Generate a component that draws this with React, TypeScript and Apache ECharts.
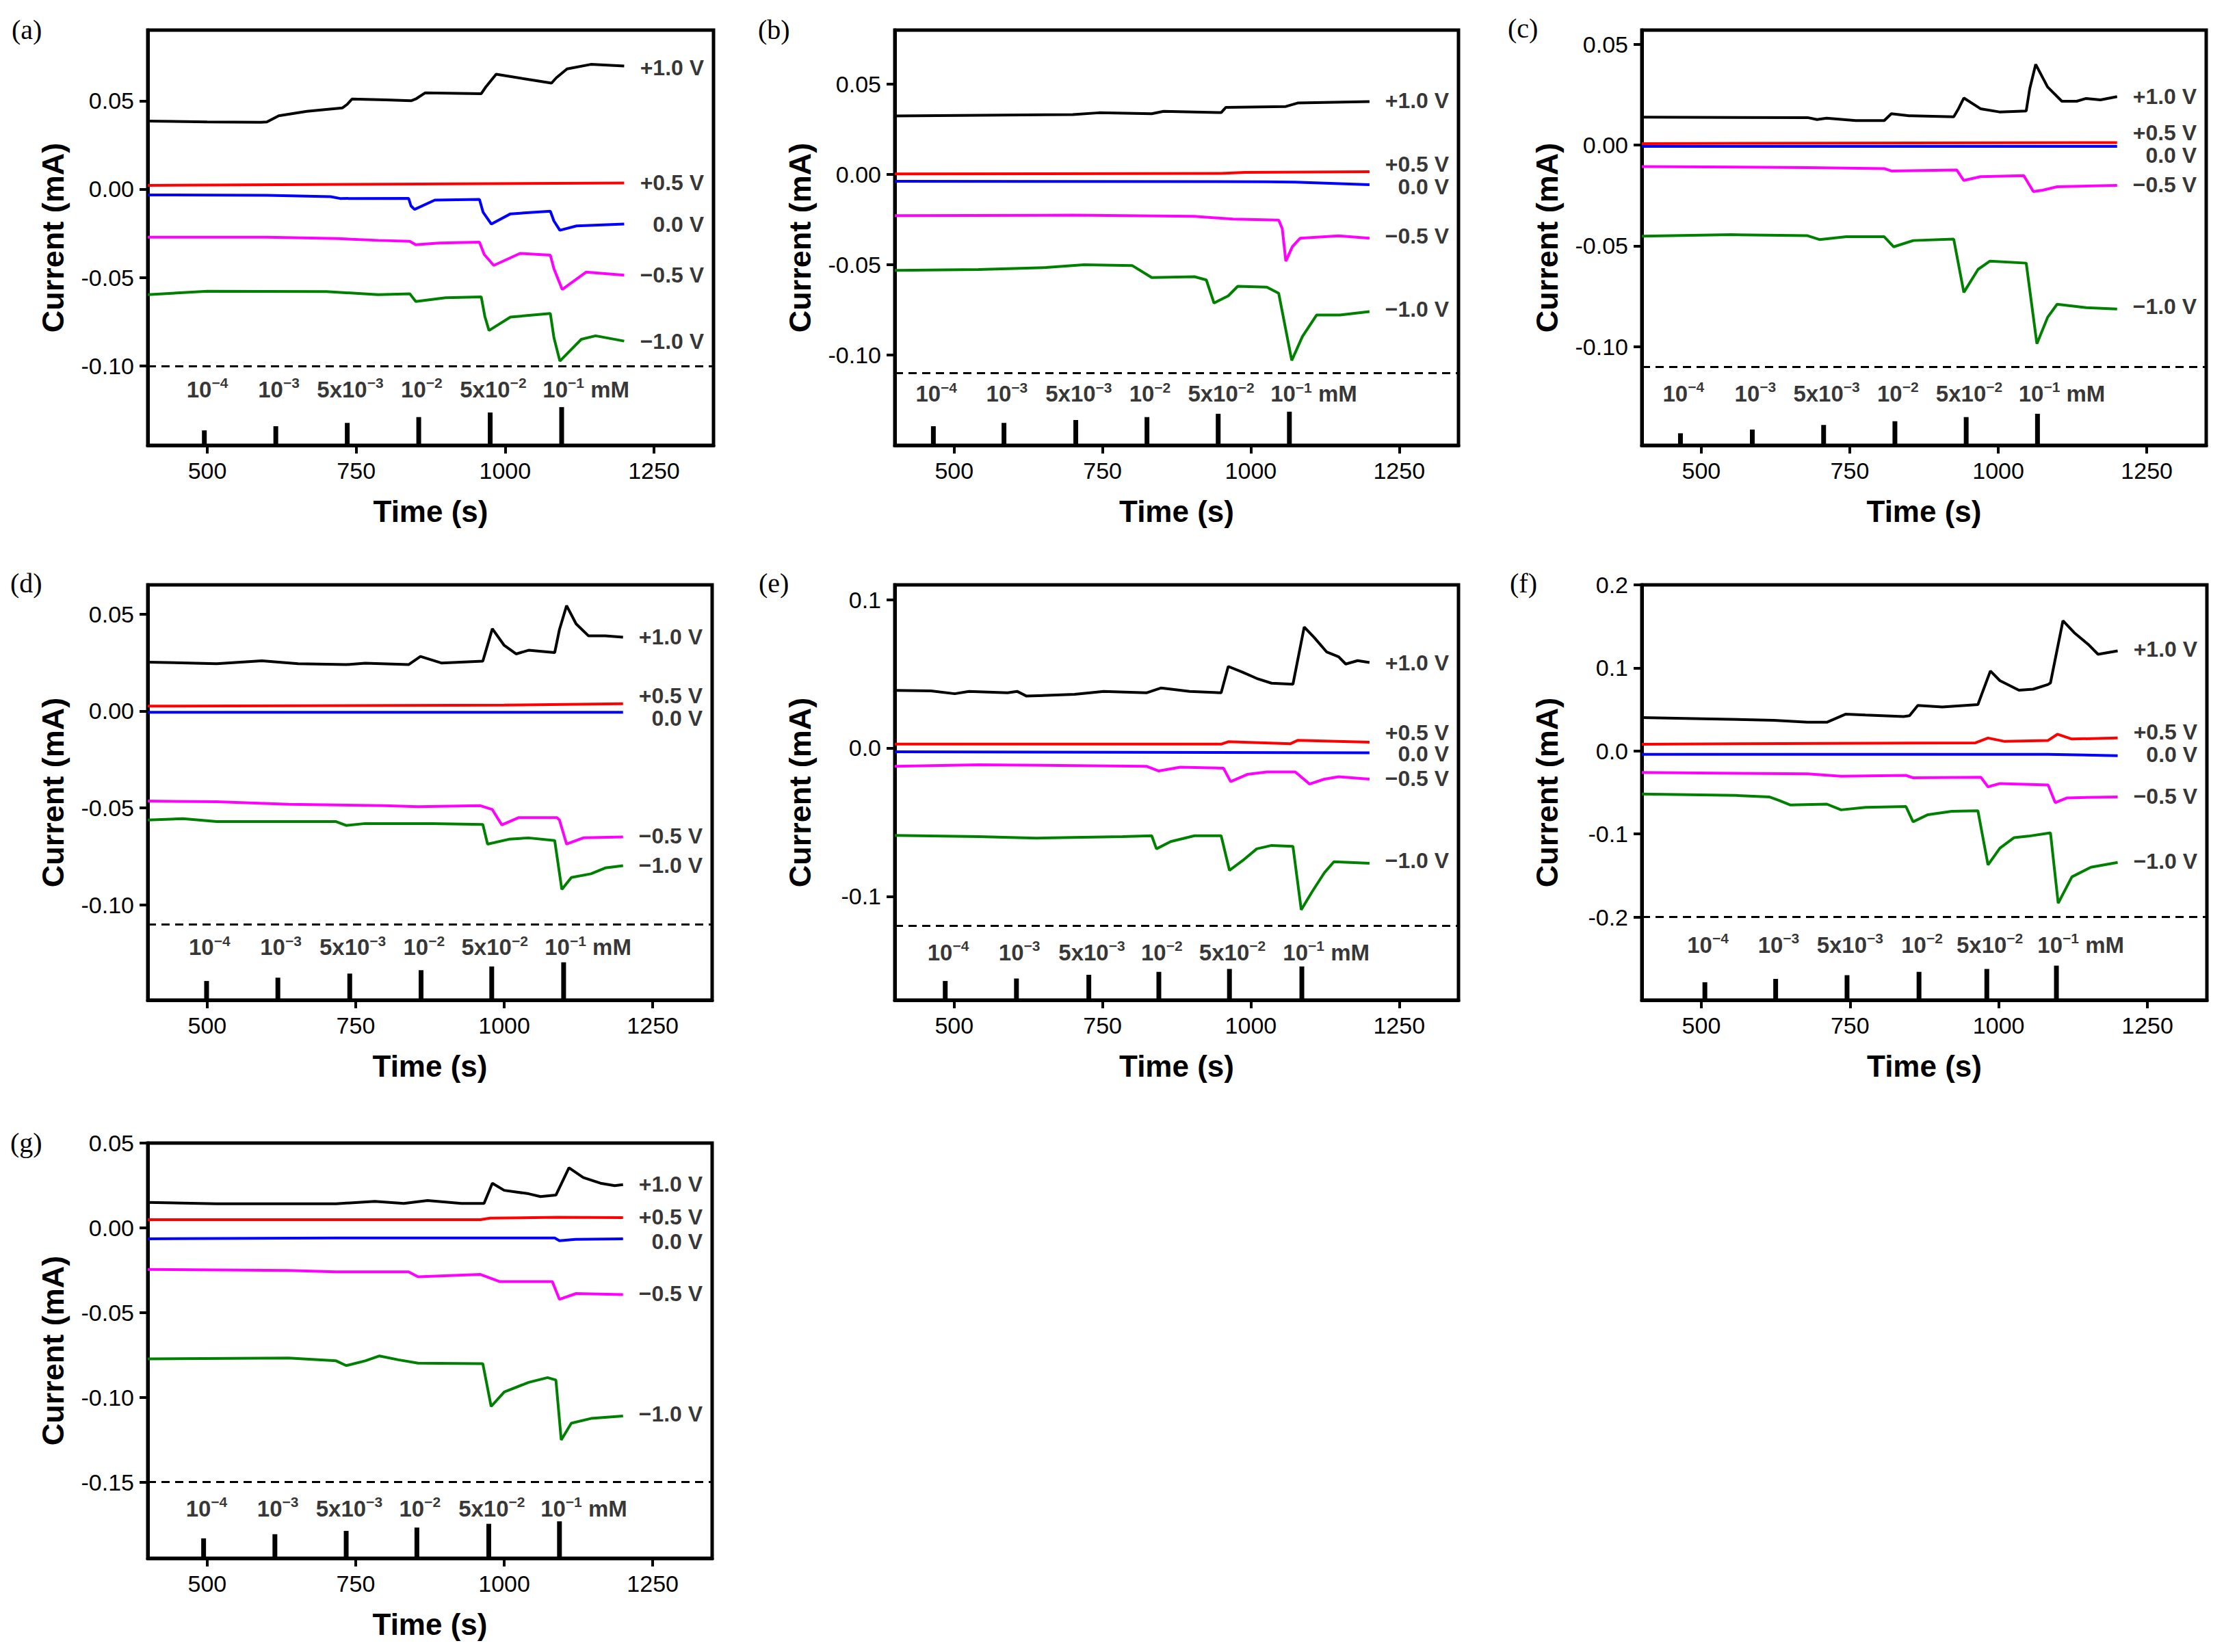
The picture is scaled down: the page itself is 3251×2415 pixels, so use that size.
import { useEffect, useRef } from "react";
import * as echarts from "echarts";

// 曲线数据 [时间 (s), 电流 (mA)]，按面板 a–g，依次为 +1.0 / +0.5 / 0.0 / −0.5 / −1.0 V
const aP10 = [[400, 0.0385], [500, 0.038], [590, 0.0378], [600, 0.038], [620, 0.0415], [667, 0.044], [727, 0.046], [735, 0.048], [743, 0.051], [800, 0.0505], [842, 0.05], [850, 0.051], [866, 0.0545], [960, 0.054], [968, 0.058], [985, 0.065], [1040, 0.062], [1078, 0.06], [1086, 0.063], [1104, 0.068], [1144, 0.0706], [1200, 0.0697]];
const aP05 = [[400, 0.0021], [800, 0.0028], [1200, 0.0035]];
const aZero = [[400, -0.0033], [600, -0.0035], [707, -0.0043], [723, -0.0053], [838, -0.0052], [842, -0.0095], [848, -0.0115], [882, -0.0062], [957, -0.0058], [963, -0.013], [977, -0.0198], [1009, -0.014], [1076, -0.0125], [1082, -0.018], [1092, -0.0233], [1120, -0.0208], [1200, -0.0198]];
const aM05 = [[400, -0.0272], [600, -0.0272], [720, -0.028], [787, -0.029], [840, -0.0295], [850, -0.0315], [890, -0.0305], [957, -0.03], [965, -0.037], [981, -0.0432], [1025, -0.0364], [1076, -0.0374], [1082, -0.045], [1096, -0.0568], [1136, -0.047], [1200, -0.0487]];
const aM10 = [[400, -0.0597], [500, -0.0578], [700, -0.058], [787, -0.0597], [840, -0.0592], [850, -0.0636], [900, -0.0615], [960, -0.061], [966, -0.072], [973, -0.08], [1009, -0.0724], [1076, -0.0704], [1082, -0.084], [1092, -0.0973], [1128, -0.085], [1152, -0.083], [1200, -0.086]];

const bP10 = [[400, 0.0324], [700, 0.0332], [744, 0.0342], [833, 0.0337], [853, 0.035], [950, 0.0343], [958, 0.0372], [1059, 0.0377], [1079, 0.0396], [1200, 0.0404]];
const bP05 = [[400, 0.0003], [950, 0.0006], [990, 0.0012], [1200, 0.0016]];
const bZero = [[400, -0.0037], [1027, -0.004], [1075, -0.0042], [1200, -0.0056]];
const bM05 = [[400, -0.0228], [700, -0.0225], [905, -0.0232], [970, -0.0247], [1047, -0.0252], [1053, -0.03], [1059, -0.048], [1070, -0.04], [1083, -0.0353], [1148, -0.034], [1200, -0.0353]];
const bM10 = [[400, -0.0531], [541, -0.0526], [655, -0.0515], [719, -0.05], [800, -0.0504], [833, -0.0571], [905, -0.0566], [925, -0.0584], [938, -0.0712], [962, -0.0672], [978, -0.0619], [1027, -0.0624], [1047, -0.0658], [1069, -0.103], [1087, -0.0897], [1111, -0.0778], [1150, -0.0778], [1200, -0.0759]];

const cP10 = [[400, 0.0138], [679, 0.0136], [695, 0.0126], [711, 0.0133], [760, 0.0121], [808, 0.0121], [820, 0.0155], [850, 0.0145], [925, 0.014], [933, 0.018], [942, 0.0233], [970, 0.018], [1002, 0.0164], [1047, 0.0169], [1053, 0.028], [1063, 0.04], [1083, 0.0288], [1107, 0.0217], [1132, 0.0217], [1148, 0.0231], [1172, 0.0224], [1200, 0.024]];
const cP05 = [[400, 0.0007], [1200, 0.0012]];
const cZero = [[400, -0.0007], [1200, -0.0007]];
const cM05 = [[400, -0.0107], [679, -0.0112], [808, -0.0117], [820, -0.0129], [930, -0.0124], [942, -0.0176], [970, -0.0157], [1043, -0.0152], [1059, -0.0231], [1075, -0.0224], [1099, -0.0207], [1200, -0.02]];
const cM10 = [[400, -0.0452], [550, -0.0445], [679, -0.045], [699, -0.0469], [744, -0.0455], [808, -0.0455], [824, -0.0505], [857, -0.0474], [925, -0.0467], [942, -0.0731], [966, -0.0617], [986, -0.0576], [1047, -0.0586], [1065, -0.0986], [1083, -0.0855], [1099, -0.079], [1148, -0.0807], [1200, -0.0814]];

const dP10 = [[400, 0.0252], [516, 0.0244], [592, 0.0259], [653, 0.0244], [734, 0.0239], [766, 0.0246], [839, 0.0239], [859, 0.0281], [895, 0.0247], [964, 0.0257], [972, 0.034], [980, 0.0424], [1000, 0.0338], [1020, 0.0294], [1041, 0.0313], [1085, 0.0301], [1093, 0.042], [1105, 0.0543], [1121, 0.0449], [1142, 0.0387], [1170, 0.0387], [1200, 0.038]];
const dP05 = [[400, 0.0025], [1000, 0.003], [1200, 0.0037]];
const dZero = [[400, -0.0007], [1200, -0.0007]];
const dM05 = [[400, -0.0464], [516, -0.0468], [637, -0.0481], [798, -0.0488], [855, -0.0493], [960, -0.0488], [980, -0.0508], [996, -0.0587], [1024, -0.055], [1089, -0.055], [1093, -0.0562], [1105, -0.0686], [1133, -0.0654], [1200, -0.0649]];
const dM10 = [[400, -0.0562], [459, -0.0555], [516, -0.057], [717, -0.057], [734, -0.059], [766, -0.058], [879, -0.058], [964, -0.0585], [972, -0.0686], [1008, -0.0661], [1041, -0.0654], [1085, -0.0668], [1097, -0.092], [1113, -0.0858], [1146, -0.0839], [1170, -0.0809], [1200, -0.0797]];

const eP10 = [[400, 0.0388], [461, 0.0385], [501, 0.0366], [525, 0.0382], [590, 0.0372], [606, 0.0382], [622, 0.035], [703, 0.0362], [752, 0.0382], [824, 0.0372], [849, 0.0405], [897, 0.0382], [950, 0.0372], [962, 0.055], [986, 0.0511], [1010, 0.0469], [1035, 0.0437], [1071, 0.043], [1090, 0.0816], [1107, 0.0744], [1128, 0.0647], [1148, 0.0615], [1160, 0.0566], [1180, 0.0589], [1200, 0.0576]];
const eP05 = [[400, 0.0026], [950, 0.0026], [962, 0.0042], [1067, 0.0029], [1079, 0.0052], [1200, 0.0039]];
const eZero = [[400, -0.0026], [1200, -0.0032]];
const eM05 = [[400, -0.0123], [541, -0.0113], [824, -0.0123], [845, -0.0155], [881, -0.0129], [954, -0.0136], [966, -0.0227], [994, -0.0178], [1027, -0.0162], [1075, -0.0162], [1099, -0.0243], [1124, -0.021], [1148, -0.0194], [1200, -0.021]];
const eM10 = [[400, -0.0589], [541, -0.0598], [639, -0.0608], [784, -0.0598], [833, -0.0592], [841, -0.068], [865, -0.0631], [905, -0.0592], [950, -0.0592], [964, -0.0825], [986, -0.076], [1010, -0.068], [1035, -0.0657], [1071, -0.0663], [1085, -0.1091], [1103, -0.0971], [1124, -0.0841], [1140, -0.0767], [1200, -0.0777]];

const fP10 = [[400, 0.0403], [517, 0.0386], [622, 0.0369], [679, 0.0346], [711, 0.0346], [743, 0.0444], [776, 0.0432], [840, 0.0415], [850, 0.0425], [864, 0.0548], [905, 0.053], [965, 0.0559], [986, 0.0963], [1002, 0.0847], [1034, 0.0732], [1058, 0.0744], [1083, 0.0801], [1087, 0.082], [1108, 0.1568], [1127, 0.1424], [1151, 0.128], [1167, 0.1164], [1200, 0.1205]];
const fP05 = [[400, 0.0081], [961, 0.0098], [982, 0.0156], [1010, 0.0115], [1083, 0.0127], [1099, 0.0202], [1123, 0.0144], [1200, 0.0156]];
const fZero = [[400, -0.004], [1083, -0.004], [1200, -0.0058]];
const fM05 = [[400, -0.0259], [679, -0.0276], [735, -0.0305], [844, -0.0294], [856, -0.0323], [970, -0.0317], [982, -0.0432], [1002, -0.0392], [1083, -0.0409], [1095, -0.0622], [1115, -0.0565], [1200, -0.0553]];
const fM10 = [[400, -0.0519], [558, -0.0536], [614, -0.0553], [630, -0.0594], [650, -0.0651], [711, -0.064], [735, -0.0709], [776, -0.068], [844, -0.0669], [856, -0.0853], [881, -0.0767], [921, -0.0726], [965, -0.072], [982, -0.1372], [1002, -0.117], [1026, -0.1043], [1050, -0.1026], [1087, -0.0986], [1100, -0.1833], [1123, -0.1516], [1155, -0.14], [1200, -0.1343]];

const gP10 = [[400, 0.015], [516, 0.0142], [717, 0.0142], [782, 0.0156], [831, 0.0144], [871, 0.0161], [928, 0.0144], [966, 0.0144], [980, 0.0263], [1000, 0.0221], [1041, 0.0201], [1061, 0.0184], [1087, 0.0193], [1109, 0.0354], [1133, 0.0297], [1162, 0.0263], [1186, 0.0249], [1200, 0.0255]];
const gP05 = [[400, 0.0048], [960, 0.0048], [976, 0.0057], [1089, 0.0062], [1200, 0.006]];
const gZero = [[400, -0.0065], [717, -0.006], [1085, -0.006], [1093, -0.0076], [1120, -0.0068], [1200, -0.0065]];
const gM05 = [[400, -0.0246], [637, -0.0252], [717, -0.026], [839, -0.026], [855, -0.0289], [960, -0.0275], [992, -0.0317], [1081, -0.0317], [1093, -0.0422], [1121, -0.0388], [1200, -0.0394]];
const gM10 = [[400, -0.0773], [637, -0.0768], [717, -0.0785], [734, -0.0813], [766, -0.0785], [790, -0.0756], [822, -0.0779], [855, -0.0799], [964, -0.0802], [978, -0.1054], [1000, -0.0969], [1041, -0.0912], [1073, -0.0884], [1087, -0.0898], [1096, -0.1252], [1113, -0.1153], [1146, -0.1125], [1200, -0.111]];

// 加样时刻 (s) 与标记高度（占坐标框高度的比例）
const injA = [495, 615, 735, 855, 975, 1095];
const injB = [465, 584, 705, 825, 945, 1065];
const injC = [465, 586, 706, 826, 946, 1066];
const injD = [499, 619, 740, 860, 979, 1100];
const injE = [485, 605, 727, 845, 964, 1086];
const injF = [506, 625, 745, 866, 980, 1097];
const injG = [494, 614, 734, 853, 974, 1093];
const markA = [0.036, 0.046, 0.054, 0.068, 0.079, 0.092];
const markB = [0.046, 0.054, 0.061, 0.068, 0.076, 0.081];
const markC = [0.029, 0.038, 0.049, 0.058, 0.068, 0.076];
const markD = [0.046, 0.054, 0.064, 0.072, 0.081, 0.091];
const markE = [0.046, 0.052, 0.061, 0.068, 0.075, 0.081];
const markF = [0.043, 0.051, 0.06, 0.068, 0.075, 0.083];
const markG = [0.048, 0.058, 0.066, 0.074, 0.083, 0.089];

// 右侧电位标注的纵坐标
const tagA = [0.0687, 0.0035, -0.0198, -0.0486, -0.086];
const tagB = [0.0409, 0.0058, -0.0069, -0.034, -0.0746];
const tagC = [0.024, 0.0062, -0.005, -0.0198, -0.0802];
const tagD = [0.0382, 0.0079, -0.0039, -0.0644, -0.0797];
const tagE = [0.0573, 0.0104, -0.0039, -0.0204, -0.076];
const tagF = [0.1222, 0.0231, -0.0046, -0.0548, -0.1331];
const tagG = [0.0258, 0.0065, -0.0082, -0.0388, -0.11];

const X_TICKS = [500, 750, 1000, 1250];
const V_LABELS = ["+1.0 V", "+0.5 V", "0.0 V", "\u22120.5 V", "\u22121.0 V"];
const CONC_LABELS = [
  "{b|10}{s|\u22124}",
  "{b|10}{s|\u22123}",
  "{b|5x10}{s|\u22123}",
  "{b|10}{s|\u22122}",
  "{b|5x10}{s|\u22122}",
  "{b|10}{s|\u22121}{b| mM}",
];
const COLORS = ["#000000", "#ff0000", "#0000ff", "#ff00ff", "#008000"];

const panels = [
  { letter: "(a)", traces: [aP10, aP05, aZero, aM05, aM10], yMin: -0.145, yMax: 0.09, yTicks: [-0.1, -0.05, 0, 0.05], dec: 2, dash: -0.1, tags: tagA, inj: injA, marks: markA },
  { letter: "(b)", traces: [bP10, bP05, bZero, bM05, bM10], yMin: -0.15, yMax: 0.08, yTicks: [-0.1, -0.05, 0, 0.05], dec: 2, dash: -0.109, tags: tagB, inj: injB, marks: markB },
  { letter: "(c)", traces: [cP10, cP05, cZero, cM05, cM10], yMin: -0.149, yMax: 0.057, yTicks: [-0.1, -0.05, 0, 0.05], dec: 2, dash: -0.112, tags: tagC, inj: injC, marks: markC },
  { letter: "(d)", traces: [dP10, dP05, dZero, dM05, dM10], yMin: -0.149, yMax: 0.065, yTicks: [-0.1, -0.05, 0, 0.05], dec: 2, dash: -0.109, tags: tagD, inj: injD, marks: markD },
  { letter: "(e)", traces: [eP10, eP05, eZero, eM05, eM10], yMin: -0.17, yMax: 0.11, yTicks: [-0.1, 0, 0.1], dec: 1, dash: -0.12, tags: tagE, inj: injE, marks: markE },
  { letter: "(f)", traces: [fP10, fP05, fZero, fM05, fM10], yMin: -0.3, yMax: 0.2, yTicks: [-0.2, -0.1, 0, 0.1, 0.2], dec: 1, dash: -0.202, tags: tagF, inj: injF, marks: markF },
  { letter: "(g)", traces: [gP10, gP05, gZero, gM05, gM10], yMin: -0.195, yMax: 0.05, yTicks: [-0.15, -0.1, -0.05, 0, 0.05], dec: 2, dash: -0.15, tags: tagG, inj: injG, marks: markG },
];

// 版面：坐标框位置 (px) 与面板字母位置
const boxes = [
  { left: 216, top: 44, width: 827, letterX: 17, letterY: 46, concY: 0.135 },
  { left: 1308, top: 44, width: 824, letterX: 1108, letterY: 46, concY: 0.124 },
  { left: 2400, top: 44, width: 825, letterX: 2204, letterY: 44, concY: 0.125 },
  { left: 216, top: 855, width: 825, letterX: 15, letterY: 855, concY: 0.127 },
  { left: 1308, top: 855, width: 824, letterX: 1109, letterY: 855, concY: 0.115 },
  { left: 2400, top: 855, width: 826, letterX: 2207, letterY: 855, concY: 0.133 },
  { left: 216, top: 1671, width: 825, letterX: 15, letterY: 1673, concY: 0.12 },
];
const BOX_H = 607;
const TAG_X = 1334;
const FONT = "'Liberation Sans', Arial, Helvetica, sans-serif";

function fmt(v: number, dec: number) {
  if (Math.abs(v) < 1e-9) return (0).toFixed(dec);
  return v.toFixed(dec);
}

function buildOption(): echarts.EChartsOption {
  const grid: any[] = [];
  const xAxis: any[] = [];
  const yAxis: any[] = [];
  const series: any[] = [];
  const graphic: any[] = [];

  panels.forEach((p, i) => {
    const b = boxes[i];
    grid.push({
      left: b.left,
      top: b.top,
      width: b.width,
      height: BOX_H,
      show: true,
      borderColor: "#000",
      borderWidth: 5,
      backgroundColor: "transparent",
      containLabel: false,
    });
    xAxis.push({
      type: "value",
      gridIndex: i,
      min: 400,
      max: 1350,
      axisLine: { show: true, onZero: false, lineStyle: { color: "#000", width: 5 } },
      axisTick: { show: true, customValues: X_TICKS, length: 12, lineStyle: { color: "#000", width: 4 } },
      axisLabel: {
        customValues: X_TICKS,
        fontSize: 34,
        color: "#000",
        margin: 20,
        fontFamily: FONT,
        formatter: (v: number) => String(v),
      },
      splitLine: { show: false },
      name: "Time (s)",
      nameLocation: "middle",
      nameGap: 74,
      nameTextStyle: { fontSize: 44, fontWeight: "bold", color: "#000", fontFamily: FONT },
    });
    yAxis.push({
      type: "value",
      gridIndex: i,
      min: p.yMin,
      max: p.yMax,
      axisLine: { show: true, onZero: false, lineStyle: { color: "#000", width: 5 } },
      axisTick: { show: true, customValues: p.yTicks, length: 12, lineStyle: { color: "#000", width: 4 } },
      axisLabel: {
        customValues: p.yTicks,
        fontSize: 34,
        color: "#000",
        margin: 20,
        fontFamily: FONT,
        formatter: (v: number) => fmt(v, p.dec),
      },
      splitLine: { show: false },
      name: "Current (mA)",
      nameLocation: "middle",
      nameGap: 116,
      nameTextStyle: { fontSize: 45, fontWeight: "bold", color: "#000", fontFamily: FONT },
    });
    // 隐藏的 0–1 辅助轴：放加样标记和浓度文字
    yAxis.push({ type: "value", gridIndex: i, min: 0, max: 1, show: false });

    p.traces.forEach((tr, k) => {
      series.push({
        type: "line",
        xAxisIndex: i,
        yAxisIndex: 2 * i,
        data: tr,
        symbol: "none",
        showSymbol: false,
        silent: true,
        lineStyle: { color: COLORS[k], width: 4 },
        itemStyle: { color: COLORS[k] },
        z: 3,
      });
    });

    series.push({
      type: "scatter",
      xAxisIndex: i,
      yAxisIndex: 2 * i,
      symbolSize: 0,
      silent: true,
      data: p.tags.map((y, k) => ({ value: [TAG_X, y], label: { formatter: V_LABELS[k] } })),
      label: {
        show: true,
        position: "left",
        distance: 0,
        fontSize: 32,
        fontWeight: "bold",
        color: "#000",
        fontFamily: FONT,
      },
      markLine: {
        silent: true,
        symbol: ["none", "none"],
        label: { show: false },
        lineStyle: { color: "#000", width: 3, type: [12, 8] },
        data: [{ yAxis: p.dash }],
      },
    });

    series.push({
      type: "bar",
      xAxisIndex: i,
      yAxisIndex: 2 * i + 1,
      data: p.inj.map((t, k) => [t, p.marks[k]]),
      barWidth: 7,
      silent: true,
      itemStyle: { color: "#000" },
    });

    series.push({
      type: "scatter",
      xAxisIndex: i,
      yAxisIndex: 2 * i + 1,
      symbolSize: 0,
      silent: true,
      data: p.inj.map((t, k) => ({
        value: [t + 5, b.concY],
        label: k === 5 ? { align: "left", offset: [-32, 0] } : { align: "center" },
      })),
      label: {
        show: true,
        position: "inside",
        formatter: (params: any) => CONC_LABELS[params.dataIndex],
        rich: {
          b: { fontSize: 33, fontWeight: "bold", color: "#000", fontFamily: FONT, lineHeight: 40 },
          s: { fontSize: 21, fontWeight: "bold", color: "#000", fontFamily: FONT, lineHeight: 22, verticalAlign: "top" },
        },
      },
    });

    graphic.push({
      type: "text",
      left: b.letterX,
      top: b.letterY - 23,
      style: { text: p.letter, font: "40px 'Liberation Serif', 'Times New Roman', serif", fill: "#000" },
    });
  });

  return {
    animation: false,
    backgroundColor: "#ffffff",
    grid,
    xAxis,
    yAxis,
    series,
    graphic,
  } as echarts.EChartsOption;
}

export default function App() {
  const chartRef = useRef<HTMLDivElement>(null);

  useEffect(() => {
    if (!chartRef.current) return;
    const chart = echarts.init(chartRef.current, null, { renderer: "svg" });
    chart.setOption(buildOption());
    return () => {
      chart.dispose();
    };
  }, []);

  return (
    <div
      ref={chartRef}
      style={{ position: "absolute", left: 0, top: 0, width: 3251, height: 2415, background: "#fff" }}
    />
  );
}
